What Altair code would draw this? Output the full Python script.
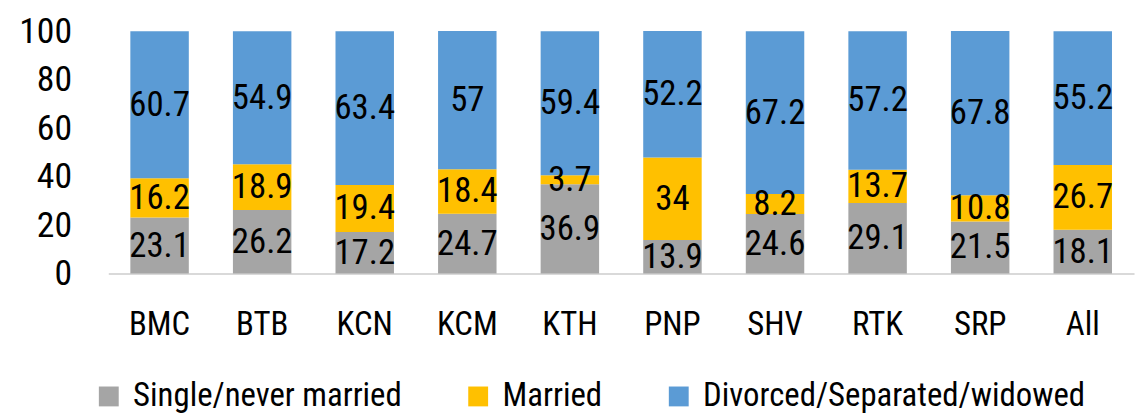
import altair as alt
import pandas as pd

categories = ["BMC", "BTB", "KCN", "KCM", "KTH", "PNP", "SHV", "RTK", "SRP", "All"]
series = ["Single/never married", "Married", "Divorced/Separated/widowed"]
single = [23.1, 26.2, 17.2, 24.7, 36.9, 13.9, 24.6, 29.1, 21.5, 18.1]
married = [16.2, 18.9, 19.4, 18.4, 3.7, 34, 8.2, 13.7, 10.8, 26.7]
divorced = [60.7, 54.9, 63.4, 57, 59.4, 52.2, 67.2, 57.2, 67.8, 55.2]
colors = ["#A5A5A5", "#FFC000", "#5B9BD5"]
y_ticks = [0, 20, 40, 60, 80, 100]

rows = []
for s_i, (name, vals) in enumerate(zip(series, [single, married, divorced])):
    for c, v in zip(categories, vals):
        rows.append({"cat": c, "series": name, "value": v, "order": s_i})
df = pd.DataFrame(rows)

FONT = "Roboto Condensed, Liberation Sans Narrow, DejaVu Sans Condensed, Noto Sans, sans-serif"

base = alt.Chart(df).transform_stack(
    stack="value", groupby=["cat"], as_=["y0", "y1"], sort=[alt.SortField("order")]
).transform_calculate(mid="(datum.y0 + datum.y1) / 2")

x_enc = alt.X(
    "cat:N",
    sort=categories,
    title=None,
    scale=alt.Scale(paddingInner=0.43, paddingOuter=0.215),
    axis=alt.Axis(
        labelAngle=0, labelFontSize=33, labelFont=FONT, labelColor="#000000",
        ticks=False, domainColor="#D9D9D9", domainWidth=2, labelPadding=35,
    ),
)

bars = base.mark_bar().encode(
    x=x_enc,
    y=alt.Y(
        "y0:Q",
        title=None,
        scale=alt.Scale(domain=[0, 100], nice=False),
        axis=alt.Axis(
            values=y_ticks, labelFontSize=36, labelFont=FONT, labelColor="#000000",
            ticks=False, domain=False, grid=False, labelPadding=37,
        ),
    ),
    y2="y1:Q",
    color=alt.Color(
        "series:N",
        scale=alt.Scale(domain=series, range=colors),
        legend=alt.Legend(
            title=None, orient="none", direction="horizontal", legendX=-16, legendY=351,
            labelFontSize=33, labelFont=FONT, labelColor="#000000",
            symbolType="square", symbolSize=400, symbolStrokeWidth=0, symbolOpacity=1,
            labelOffset=8, columnPadding=60, labelLimit=600,
        ),
    ),
)

labels = base.mark_text(fontSize=35, font=FONT, color="#000000", baseline="middle").encode(
    x=alt.X("cat:N", sort=categories),
    y=alt.Y("mid:Q"),
    text=alt.Text("value:Q"),
)

chart = alt.layer(bars, labels).properties(
    width=1033,
    height=244,
    autosize=alt.AutoSizeParams(type="none"),
    padding={"left": 101, "top": 22, "right": 5, "bottom": 142},
).configure_view(stroke=None)

chart.save("out.html", embed_options={"renderer": "svg", "actions": False})
